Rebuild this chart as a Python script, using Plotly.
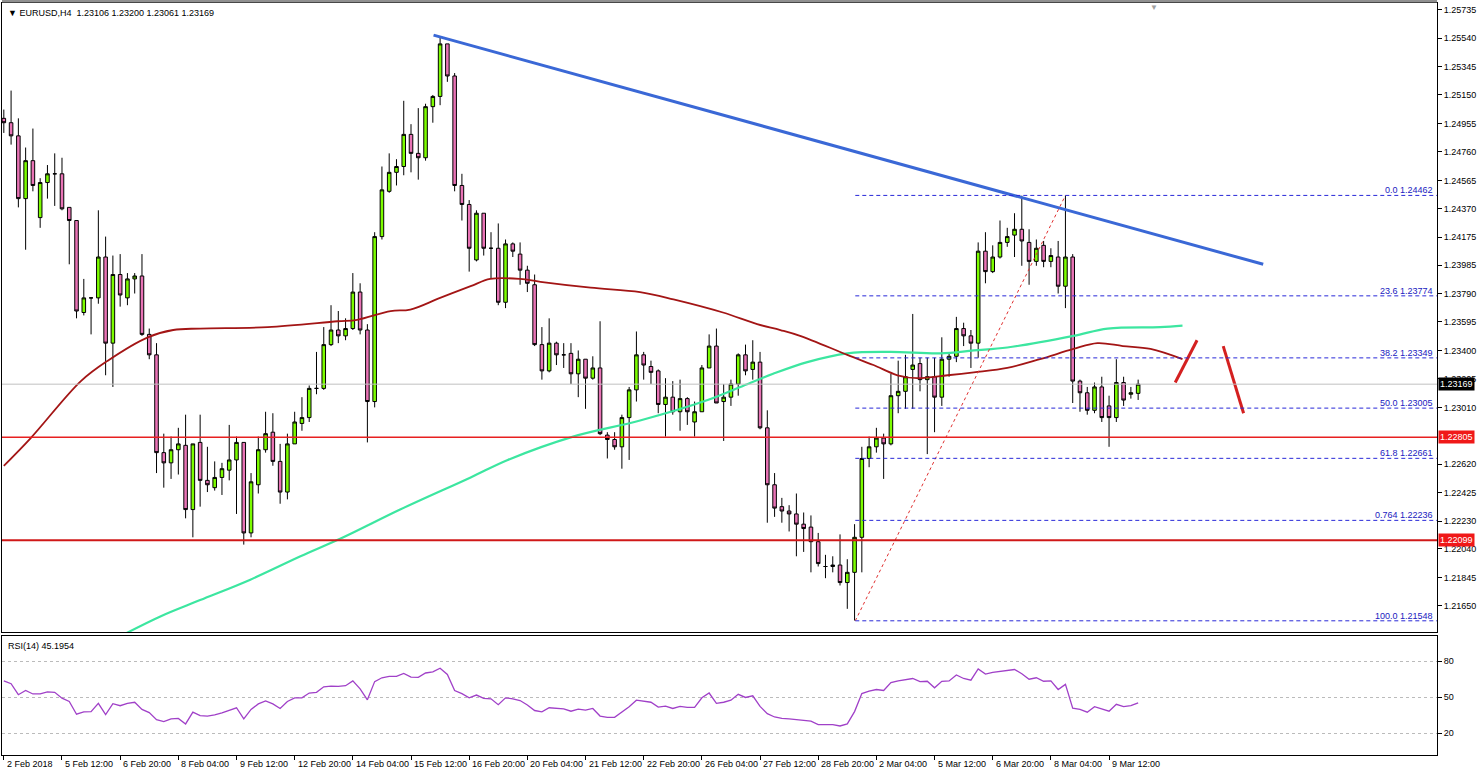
import plotly.graph_objects as go

# ---------------- data (EURUSD H4) ----------------
opens = [1.2499,1.2496,1.2487,1.2444,1.2470,1.2431,1.2455,1.2461,1.2461,1.2438,
1.2429,1.2366,1.2376,1.2376,1.2404,1.2345,1.2392,1.2376,1.2389,1.2391,
1.2351,1.2337,1.2270,1.2263,1.2272,1.2275,1.2231,1.2277,1.2251,1.2246,
1.2253,1.2258,1.2265,1.2277,1.2215,1.2248,1.2272,1.2284,1.2264,1.2243,
1.2276,1.2290,1.2294,1.2314,1.2314,1.2344,1.2354,1.2350,1.2355,1.2380,
1.2354,1.2305,1.2418,1.2449,1.2462,1.2466,1.2488,1.2475,1.2472,1.2507,
1.2514,1.2550,1.2528,1.2453,1.2440,1.2402,1.2434,1.2410,1.2410,1.2373,
1.2413,1.2406,1.2395,1.2385,1.2344,1.2326,1.2345,1.2337,1.2338,1.2324,
1.2334,1.2321,1.2328,1.2282,1.2279,1.2274,1.2294,1.2313,1.2337,1.2329,
1.2326,1.2303,1.2308,1.2298,1.2307,1.2291,1.2298,1.2328,1.2343,1.2305,
1.2308,1.2317,1.2337,1.2327,1.2332,1.2287,1.2248,1.2233,1.2230,1.2228,
1.2221,1.2219,1.2209,1.2192,1.2192,1.2193,1.2181,1.2188,1.2212,1.2266,
1.2274,1.2280,1.2276,1.2309,1.2312,1.2327,1.2331,1.2320,1.2322,1.2308,
1.2334,1.2336,1.2355,1.2350,1.2345,1.2408,1.2394,1.2404,1.2414,1.2419,
1.2423,1.2414,1.2401,1.2412,1.2401,1.2404,1.2384,1.2404,1.2319,1.2311,
1.2299,1.2315,1.2302,1.2294,1.2318,1.2310,1.23106]
highs = [1.2505,1.2518,1.2499,1.2479,1.2492,1.2458,1.2467,1.2475,1.2472,1.2438,
1.2429,1.2389,1.2376,1.2436,1.2418,1.2405,1.2406,1.2393,1.2393,1.2406,
1.2355,1.2345,1.2283,1.2281,1.2287,1.2296,1.2276,1.2296,1.2274,1.2264,
1.2263,1.2289,1.2281,1.2277,1.2256,1.2281,1.2298,1.2297,1.2276,1.2283,
1.2298,1.2308,1.2316,1.2339,1.2356,1.2371,1.2367,1.2362,1.2393,1.2386,
1.2358,1.2421,1.2466,1.2475,1.2471,1.2511,1.2495,1.2506,1.2509,1.2515,
1.2555,1.2550,1.2530,1.2461,1.2443,1.2436,1.2434,1.2421,1.2427,1.2416,
1.2414,1.2414,1.2398,1.2392,1.2356,1.2362,1.2346,1.2345,1.2345,1.2340,
1.2334,1.2336,1.2360,1.2284,1.2284,1.2296,1.2315,1.2353,1.2339,1.2333,
1.2327,1.2321,1.2319,1.2320,1.2308,1.2305,1.2330,1.2351,1.2355,1.2317,
1.2320,1.2338,1.2344,1.2347,1.2339,1.2299,1.2256,1.2239,1.2234,1.2242,
1.2229,1.2227,1.2215,1.2200,1.2199,1.2214,1.2197,1.2221,1.2274,1.2281,
1.2287,1.2283,1.2324,1.2333,1.2337,1.2365,1.2335,1.2335,1.2335,1.2349,
1.2338,1.2363,1.2359,1.2354,1.2414,1.2421,1.2412,1.2429,1.2424,1.2434,
1.2446,1.2423,1.2416,1.2415,1.2410,1.2415,1.2446,1.2406,1.2320,1.2315,
1.2318,1.2322,1.2309,1.2334,1.2322,1.2315,1.23200]
lows = [1.2489,1.2481,1.2438,1.2409,1.2449,1.2424,1.2444,1.2439,1.2436,1.2399,
1.2362,1.2364,1.2351,1.2372,1.2323,1.2315,1.2370,1.2371,1.2379,1.2350,
1.2334,1.2256,1.2246,1.2252,1.2255,1.2225,1.2212,1.2233,1.2243,1.2244,
1.2241,1.2251,1.2228,1.2207,1.2212,1.2242,1.2270,1.2261,1.2235,1.2238,
1.2276,1.2285,1.2291,1.2310,1.2313,1.2343,1.2345,1.2347,1.2354,1.2351,
1.2277,1.2301,1.2416,1.2448,1.2453,1.2460,1.2462,1.2457,1.2470,1.2496,
1.2508,1.2524,1.2449,1.2429,1.2394,1.2401,1.2405,1.2389,1.2371,1.2369,
1.2404,1.2385,1.2380,1.2343,1.2320,1.2325,1.2330,1.2328,1.2317,1.2308,
1.2300,1.2320,1.2282,1.2266,1.2272,1.2259,1.2265,1.2305,1.2320,1.2317,
1.2297,1.2281,1.2296,1.2285,1.2289,1.2281,1.2298,1.2328,1.2304,1.2278,
1.2302,1.2309,1.2323,1.2320,1.2286,1.2222,1.2226,1.2222,1.2216,1.2199,
1.2202,1.2188,1.2192,1.2184,1.2188,1.2179,1.2163,1.2155,1.2188,1.2260,
1.2270,1.2252,1.2275,1.2297,1.2300,1.2300,1.2312,1.2269,1.2284,1.2302,
1.2322,1.2332,1.2343,1.2328,1.2335,1.2386,1.2393,1.2403,1.2411,1.2404,
1.2398,1.2385,1.2398,1.2397,1.2397,1.2379,1.2369,1.2304,1.2298,1.2296,
1.2297,1.2291,1.2274,1.2291,1.2302,1.2307,1.23061]
closes = [1.2496,1.2487,1.2444,1.2470,1.2453,1.2455,1.2461,1.2461,1.2437,1.2429,
1.2367,1.2376,1.2376,1.2404,1.2345,1.2392,1.2378,1.2389,1.2391,1.2351,
1.2337,1.2270,1.2263,1.2272,1.2276,1.2231,1.2276,1.2251,1.2248,1.2253,
1.2259,1.2265,1.2277,1.2215,1.2250,1.2272,1.2283,1.2264,1.2243,1.2276,
1.2291,1.2294,1.2314,1.2314,1.2344,1.2354,1.2350,1.2355,1.2380,1.2354,
1.2305,1.2418,1.2450,1.2462,1.2466,1.2488,1.2475,1.2472,1.2507,1.2514,
1.2550,1.2528,1.2453,1.2440,1.2410,1.2434,1.2410,1.2410,1.2373,1.2413,
1.2408,1.2395,1.2386,1.2344,1.2326,1.2345,1.2337,1.2337,1.2324,1.2334,
1.2321,1.2328,1.2283,1.2279,1.2274,1.2294,1.2313,1.2337,1.2330,1.2325,
1.2303,1.2308,1.2298,1.2307,1.2298,1.2298,1.2328,1.2343,1.2304,1.2308,
1.2317,1.2337,1.2326,1.2332,1.2287,1.2248,1.2232,1.2230,1.2228,1.2221,
1.2218,1.2209,1.2194,1.2192,1.2193,1.2181,1.2188,1.2212,1.2266,1.2274,
1.2280,1.2276,1.2309,1.2312,1.2322,1.2330,1.2320,1.2322,1.2308,1.2334,
1.2336,1.2355,1.2350,1.2345,1.2408,1.2394,1.2404,1.2414,1.2418,1.2423,
1.2415,1.2401,1.2410,1.2401,1.2405,1.2384,1.2404,1.2319,1.2311,1.2299,
1.2315,1.2294,1.2294,1.2318,1.2306,1.2311,1.23169]
bars = list(range(len(closes)))

ma_red_x = [0,3.7,10.6,14.3,19.8,23.3,27,36.3,45.9,48.6,53.2,55.9,60,64.2,66.9,71,73.8,80.7,87.5,92.1,
            98.9,103.6,106.8,109.5,116,119.6,122.9,125.6,129.8,133.4,138,142.5,147.1,150.4,153.9,157.7,162.1]
ma_red_y = [1.2261,1.2280,1.2319,1.2333,1.2349,1.2354,1.2355,1.2356,1.2360,1.2361,1.2367,1.2368,1.2376,1.2384,
            1.2389,1.2389,1.2387,1.2383,1.2380,1.2375,1.2366,1.2358,1.2354,1.2350,1.2337,1.2330,1.2323,1.2321,
            1.2323,1.2325,1.2328,1.2334,1.2341,1.2345,1.2343,1.2341,1.2334]
ma_grn_x = [16.7,21.6,27,33.9,40.8,46.7,54.5,64.2,69.3,78.3,87.5,96.8,101.3,105.8,110.5,116,121.9,128.8,
            133.4,138,147.1,151.8,159,162.1]
ma_grn_y = [1.2146,1.2158,1.2169,1.2183,1.2199,1.2212,1.2231,1.2253,1.2265,1.2281,1.2292,1.2306,1.2315,1.2324,
            1.2332,1.2338,1.2339,1.2338,1.2340,1.2342,1.2350,1.2355,1.2356,1.2357]

rsi = [63.5,61.2,52.0,55.5,52.6,52.6,54.3,54.0,49.1,46.3,35.7,37.7,37.9,44.8,35.4,44.5,42.8,44.8,45.7,39.7,
       37.1,31.1,29.6,31.9,32.2,27.6,37.4,34.5,34.2,35.1,36.8,38.8,41.1,31.9,39.7,44.3,46.8,44.3,40.5,46.3,
       49.4,49.4,53.4,54.0,58.6,59.2,58.9,59.5,63.5,56.9,47.7,62.9,66.1,67.2,67.2,69.8,66.6,66.4,70.1,71.0,
       74.1,68.9,55.5,52.9,49.4,51.7,48.9,48.6,43.7,49.4,48.6,47.1,43.4,38.8,37.7,41.1,40.5,40.2,38.2,40.0,
       39.1,40.5,34.2,33.1,33.1,37.4,42.0,47.4,46.8,45.7,41.7,42.5,40.5,42.2,41.4,41.4,49.4,53.4,44.8,45.7,
       47.4,52.3,49.7,51.1,42.2,36.2,33.4,32.2,31.9,31.3,30.8,29.9,27.0,26.8,27.0,25.9,27.6,37.9,52.9,54.9,
       56.3,55.5,62.1,63.5,64.4,65.5,62.9,63.2,57.7,63.2,63.5,68.4,65.5,64.1,73.5,69.2,70.7,71.5,72.4,73.0,
       69.5,64.9,66.1,63.2,63.5,56.3,60.6,40.8,39.7,37.4,42.0,40.0,38.2,44.0,42.0,42.8,45.2]

trend_x = [59.1, 173.2]
trend_y = [1.2556, 1.2399]
fib_start = 117.1
fib_line_x = [117.1, 146.0]
fib_line_y = [1.21548, 1.24462]
fib_names = ["0.0", "23.6", "38.2", "50.0", "61.8", "0.764", "100.0"]
fib_levels = [1.24462, 1.23774, 1.23349, 1.23005, 1.22661, 1.22236, 1.21548]
support_levels = [1.22805, 1.22099]
last_price = 1.23169
arrow1_x = [161.1, 164.1]; arrow1_y = [1.2318, 1.2347]
arrow2_x = [167.7, 170.5]; arrow2_y = [1.2343, 1.2297]

price_ticks = [1.25735,1.25540,1.25345,1.25150,1.24955,1.24760,1.24565,1.24370,1.24175,1.23985,1.23790,
               1.23595,1.23400,1.23205,1.23010,1.22620,1.22425,1.22230,1.22040,1.21845,1.21650,1.21455]
date_labels = ["2 Feb 2018","5 Feb 12:00","6 Feb 20:00","8 Feb 04:00","9 Feb 12:00","12 Feb 20:00",
               "14 Feb 04:00","15 Feb 12:00","16 Feb 20:00","20 Feb 04:00","21 Feb 12:00","22 Feb 20:00",
               "26 Feb 04:00","27 Feb 12:00","28 Feb 20:00","2 Mar 04:00","5 Mar 12:00","6 Mar 20:00",
               "8 Mar 04:00","9 Mar 12:00"]
date_pos = [i * 8 for i in range(len(date_labels))]

XR = [-0.25, 197.1]
FONT = "Liberation Sans"

fig = go.Figure()
fig.add_trace(go.Candlestick(
    x=bars, open=opens, high=highs, low=lows, close=closes,
    increasing=dict(fillcolor="#7CFC00", line=dict(color="black", width=1)),
    decreasing=dict(fillcolor="#E873B5", line=dict(color="black", width=1)),
    whiskerwidth=0, xaxis="x", yaxis="y", showlegend=False, hoverinfo="skip"))
fig.add_trace(go.Scatter(x=ma_grn_x, y=ma_grn_y, mode="lines", line=dict(color="#3CE6A0", width=2.2, shape="spline"),
                         xaxis="x", yaxis="y", showlegend=False))
fig.add_trace(go.Scatter(x=ma_red_x, y=ma_red_y, mode="lines", line=dict(color="#A31515", width=1.8, shape="spline"),
                         xaxis="x", yaxis="y", showlegend=False))
fig.add_trace(go.Scatter(x=trend_x, y=trend_y, mode="lines", line=dict(color="#3A68D6", width=3),
                         xaxis="x", yaxis="y", showlegend=False))
fig.add_trace(go.Scatter(x=fib_line_x, y=fib_line_y, mode="lines", line=dict(color="#E03030", width=1, dash="dot"),
                         xaxis="x", yaxis="y", showlegend=False))
for ax_, ay_ in [(arrow1_x, arrow1_y), (arrow2_x, arrow2_y)]:
    fig.add_trace(go.Scatter(x=ax_, y=ay_, mode="lines", line=dict(color="#D42020", width=3),
                             xaxis="x", yaxis="y", showlegend=False))
fig.add_trace(go.Scatter(x=bars, y=rsi, mode="lines", line=dict(color="#A040C8", width=1.3),
                         xaxis="x2", yaxis="y2", showlegend=False))

shapes = []
for lv in fib_levels:
    shapes.append(dict(type="line", xref="x", yref="y", x0=fib_start, x1=XR[1], y0=lv, y1=lv,
                       line=dict(color="#2828D8", width=1, dash="4px,3px")))
shapes.append(dict(type="line", xref="x", yref="y", x0=XR[0], x1=XR[1], y0=last_price, y1=last_price,
                   line=dict(color="#C0C0C0", width=1)))
shapes.append(dict(type="line", xref="x", yref="y", x0=XR[0], x1=XR[1], y0=support_levels[0], y1=support_levels[0],
                   line=dict(color="#E82020", width=1.6)))
shapes.append(dict(type="line", xref="x", yref="y", x0=XR[0], x1=XR[1], y0=support_levels[1], y1=support_levels[1],
                   line=dict(color="#D01818", width=2)))
shapes.append(dict(type="line", xref="paper", yref="paper", x0=0, x1=1, y0=1.0025, y1=1.0025,
                   line=dict(color="#909090", width=3)))

ann = []
for nm, lv in zip(fib_names, fib_levels):
    ann.append(dict(xref="x", yref="y", x=XR[1], y=lv, text=f"{nm} {lv:.5f}", showarrow=False,
                    xanchor="right", yanchor="bottom", xshift=-2, yshift=-2,
                    font=dict(family=FONT, size=9, color="#2020C0")))
for lv in support_levels:
    ann.append(dict(xref="paper", yref="y", x=1, y=lv, text=f"{lv:.5f}", showarrow=False, xanchor="left",
                    xshift=1, bgcolor="#F01818", font=dict(family=FONT, size=9, color="white"), borderpad=1))
ann.append(dict(xref="paper", yref="y", x=1, y=last_price, text=f"{last_price:.5f}", showarrow=False, xanchor="left",
                xshift=1, bgcolor="black", font=dict(family=FONT, size=9, color="white"), borderpad=1))
ann.append(dict(xref="paper", yref="paper", x=0, y=1, xshift=4, yshift=-3, xanchor="left", yanchor="top",
                text="▼ EURUSD,H4  1.23106 1.23200 1.23061 1.23169", showarrow=False,
                font=dict(family=FONT, size=9, color="black")))
ann.append(dict(xref="paper", yref="paper", x=0, y=0.158, xshift=4, yshift=-3, xanchor="left", yanchor="top",
                text="RSI(14) 45.1954", showarrow=False, font=dict(family=FONT, size=9, color="black")))
ann.append(dict(xref="x", yref="paper", x=158.2, y=1, yshift=2, xanchor="center", yanchor="top", text="▼",
                showarrow=False, font=dict(family=FONT, size=8, color="#A0A0A0")))
for lab, pos in zip(date_labels, date_pos):
    ann.append(dict(xref="x2", yref="paper", x=pos, y=0, yshift=-2, xanchor="left", yanchor="top", xshift=1,
                    text=lab, showarrow=False, font=dict(family=FONT, size=9, color="black")))

fig.update_layout(
    width=1480, height=772, margin=dict(l=2, r=43, t=3, b=17),
    paper_bgcolor="white", plot_bgcolor="white", shapes=shapes, annotations=ann,
    xaxis=dict(domain=[0, 1], range=XR, anchor="y", showticklabels=False, showgrid=False, zeroline=False,
               showline=True, mirror=True, linecolor="black", linewidth=1, rangeslider=dict(visible=False),
               ticks=""),
    yaxis=dict(domain=[0.1633, 1], range=[1.2147, 1.2578], side="right", anchor="x", tickvals=price_ticks,
               ticktext=[f"{v:.5f}" for v in price_ticks], ticks="outside", ticklen=4, tickcolor="black",
               showgrid=False, zeroline=False, showline=True, mirror=True, linecolor="black",
               tickfont=dict(family=FONT, size=9, color="black")),
    xaxis2=dict(domain=[0, 1], range=XR, anchor="y2", tickvals=date_pos, showticklabels=False, ticks="outside",
                ticklen=4, tickcolor="black", showgrid=False, zeroline=False, showline=True, mirror=True,
                linecolor="black"),
    yaxis2=dict(domain=[0, 0.158], range=[1.7, 100.8], side="right", anchor="x2", tickvals=[20, 50, 80],
                ticks="outside", ticklen=4, tickcolor="black", showgrid=True, gridcolor="#BBBBBB",
                griddash="dot", zeroline=False, showline=True, mirror=True, linecolor="black",
                tickfont=dict(family=FONT, size=9, color="black")),
)
fig.write_html("out.html", config={"displayModeBar": False},
               post_script="document.body.style.margin='0';document.body.style.overflow='hidden';")
